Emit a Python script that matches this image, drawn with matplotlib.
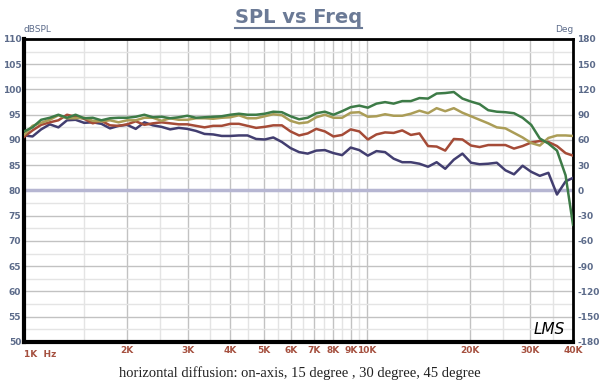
import matplotlib
matplotlib.use("Agg")
import matplotlib.pyplot as plt
from matplotlib.lines import Line2D
from matplotlib.ticker import FixedLocator, NullFormatter

plt.rcParams["axes.unicode_minus"] = False

# frequency grid (Hz), 1/12 octave
freq = [1000, 1059, 1122, 1189, 1260, 1335, 1414, 1498, 1587, 1682, 1782, 1888,
        2000, 2119, 2245, 2378, 2520, 2670, 2828, 2997, 3175, 3364, 3564, 3775,
        4000, 4238, 4490, 4757, 5040, 5339, 5657, 5993, 6350, 6727, 7127, 7551,
        8000, 8476, 8980, 9514, 10079, 10679, 11314, 11986, 12699, 13454, 14254, 15102,
        16000, 16951, 17959, 19027, 20159, 21357, 22627, 23973, 25398, 26909, 28509, 30204,
        32000, 33903, 35919, 38055, 40000]

spl_0 = [91.7, 92.5, 94.0, 94.4, 95.0, 94.4, 95.0, 94.3, 94.4, 93.9, 94.3, 94.4,
         94.4, 94.6, 95.0, 94.5, 94.6, 94.3, 94.5, 94.8, 94.4, 94.5, 94.6, 94.7,
         95.0, 95.2, 95.0, 95.0, 95.2, 95.6, 95.5, 94.7, 94.1, 94.4, 95.3, 95.6,
         95.0, 95.7, 96.5, 96.8, 96.4, 97.2, 97.5, 97.2, 97.7, 97.7, 98.3, 98.2,
         99.2, 99.3, 99.5, 98.2, 97.6, 97.1, 95.9, 95.6, 95.5, 95.3, 94.4, 93.0,
         90.3, 89.3, 87.9, 83.0, 73.2]

spl_15 = [91.0, 92.8, 93.4, 94.0, 94.9, 94.3, 94.3, 94.4, 93.8, 93.7, 93.9, 93.5,
          93.9, 93.9, 94.4, 94.4, 93.8, 94.3, 94.0, 94.0, 94.3, 94.3, 94.2, 94.4,
          94.5, 94.9, 94.3, 94.3, 94.7, 95.1, 94.9, 93.8, 93.3, 93.5, 94.5, 95.0,
          94.4, 94.4, 95.4, 95.5, 94.6, 94.7, 95.1, 94.8, 94.8, 95.2, 95.8, 95.3,
          96.3, 95.7, 96.3, 95.4, 94.7, 94.0, 93.3, 92.5, 92.3, 91.4, 90.5, 89.4,
          88.9, 90.4, 90.9, 90.9, 90.8]

spl_30 = [90.6, 91.9, 93.0, 93.5, 93.9, 95.0, 94.6, 94.2, 93.3, 93.8, 92.9, 92.8,
          93.1, 93.7, 93.0, 93.3, 93.5, 93.3, 93.1, 93.1, 92.8, 92.5, 92.8, 92.8,
          93.2, 93.2, 92.8, 92.4, 92.6, 92.9, 92.9, 91.7, 90.9, 91.3, 92.2, 91.7,
          90.7, 91.0, 92.1, 91.7, 90.1, 91.1, 91.5, 91.4, 91.9, 91.0, 91.3, 88.8,
          88.7, 87.9, 90.2, 90.1, 88.9, 88.6, 89.0, 89.0, 89.0, 88.3, 88.8, 89.5,
          89.8, 89.6, 88.8, 87.4, 86.9]

spl_45 = [90.9, 90.7, 92.1, 93.1, 92.5, 93.9, 94.0, 93.4, 93.5, 93.2, 92.3, 92.8,
          93.0, 92.2, 93.5, 92.9, 92.6, 92.1, 92.4, 92.2, 91.8, 91.2, 91.1, 90.8,
          90.8, 90.9, 90.9, 90.2, 90.1, 90.5, 89.6, 88.4, 87.6, 87.3, 87.9, 88.0,
          87.4, 87.0, 88.5, 88.0, 86.9, 87.8, 87.6, 86.3, 85.6, 85.6, 85.3, 84.7,
          85.6, 84.3, 86.1, 87.3, 85.5, 85.2, 85.3, 85.5, 84.0, 83.2, 84.9, 83.7,
          82.9, 83.5, 79.2, 81.8, 82.5]

major_f = [1000, 2000, 3000, 4000, 5000, 6000, 7000, 8000, 9000, 10000, 20000, 30000, 40000]
major_lbl = ["", "2K", "3K", "4K", "5K", "6K", "7K", "8K", "9K", "10K", "20K", "30K", "40K"]
minor_f = [1500, 2500, 3500, 4500, 5500, 6500, 7500, 8500, 9500, 15000, 25000, 35000]

lbl_col = "#5c6b8a"
x_col = "#a5503f"

fig = plt.figure(figsize=(6, 3.86), dpi=100)
ax = fig.add_axes([0.04, 0.114, 0.915, 0.785])

ax.set_xscale("log")
ax.set_xlim(1000, 40000)
ax.set_ylim(50, 110)

ax.xaxis.set_major_locator(FixedLocator(major_f))
ax.xaxis.set_minor_locator(FixedLocator(minor_f))
ax.xaxis.set_minor_formatter(NullFormatter())
ax.set_xticklabels(major_lbl)
ax.set_yticks(range(50, 111, 5))
ax.yaxis.set_minor_locator(FixedLocator([52.5 + 5 * k for k in range(12)]))

ax.grid(which="major", color="#c2c2c2", lw=1.0)
ax.grid(which="minor", color="#e4e4e4", lw=1.0)
ax.set_axisbelow(True)

ax.tick_params(which="both", length=0)
ax.tick_params(axis="y", labelsize=6.5, labelcolor=lbl_col, pad=2)
ax.tick_params(axis="x", labelsize=6.5, labelcolor=x_col, pad=3)
for t in ax.get_yticklabels() + ax.get_xticklabels():
    t.set_fontweight("bold")

for s in ax.spines.values():
    s.set_color("black")
    s.set_linewidth(2)
ax.spines["left"].set_linewidth(3)
ax.spines["bottom"].set_linewidth(3)

# zero phase line
ax.axhline(80, color="#b6b6d2", lw=2.5, zorder=2)

ax.plot(freq, spl_45, color="#423e70", lw=1.8, zorder=3)
ax.plot(freq, spl_30, color="#a54b37", lw=1.8, zorder=3)
ax.plot(freq, spl_15, color="#ab9d57", lw=1.8, zorder=3)
ax.plot(freq, spl_0, color="#3d7b47", lw=1.8, zorder=3)

ax.text(1000, 48.4, "1K  Hz", color=x_col, fontsize=6.5, fontweight="bold",
        ha="left", va="top")
ax.text(1000, 111, "dBSPL", color=lbl_col, fontsize=6.5, ha="left", va="bottom")
ax.text(40000, 111, "Deg", color=lbl_col, fontsize=6.5, ha="right", va="bottom")
ax.text(34000, 52.5, "LMS", fontsize=11, fontstyle="italic", ha="center", va="center")

ax2 = ax.twinx()
ax2.set_ylim(-180, 180)
ax2.set_yticks(range(-180, 181, 30))
ax2.tick_params(length=0, labelsize=6.5, labelcolor=lbl_col, pad=3)
for t in ax2.get_yticklabels():
    t.set_fontweight("bold")
for s in ax2.spines.values():
    s.set_visible(False)

title = fig.text(0.497, 0.955, "SPL vs Freq", fontsize=14, fontweight="bold",
                 color="#6b7a96", ha="center", va="center")
fig.text(0.5, 0.034, "horizontal diffusion: on-axis, 15 degree , 30 degree, 45 degree",
         family="Liberation Serif", fontsize=10.5, color="#222222", ha="center", va="center")

fig.canvas.draw()
bb = title.get_window_extent().transformed(fig.transFigure.inverted())
fig.add_artist(Line2D([bb.x0, bb.x1], [bb.y0 - 0.004, bb.y0 - 0.004],
                      color="#6b7a96", lw=1.5, transform=fig.transFigure))

fig.savefig("out.png", dpi=100)
